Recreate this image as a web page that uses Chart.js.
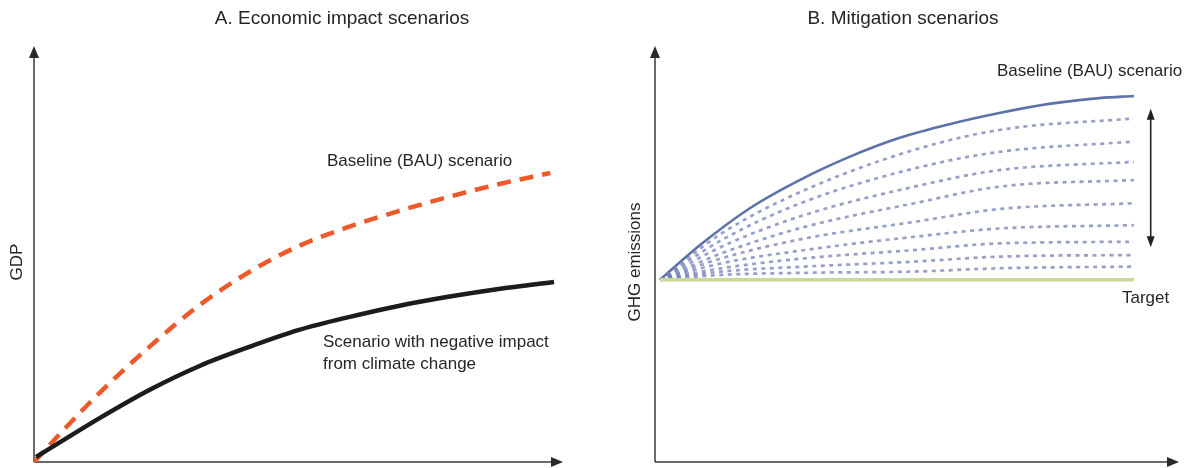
<!DOCTYPE html>
<html>
<head>
<meta charset="utf-8">
<script src="https://cdn.jsdelivr.net/npm/chart.js@4.4.1/dist/chart.umd.min.js"></script>
<style>
  html, body { margin: 0; padding: 0; background: #ffffff; }
  #wrap { position: relative; width: 1188px; height: 468px; overflow: hidden; }
  canvas { position: absolute; top: 0; }
</style>
</head>
<body>
<div id="wrap">
  <canvas id="chartA" width="600" height="468" style="left:0px;width:600px;height:468px"></canvas>
  <canvas id="chartB" width="588" height="468" style="left:600px;width:588px;height:468px"></canvas>
</div>
<script>
// ---------- Panel A: Economic impact scenarios ----------
const titleA = 'A. Economic impact scenarios';
const yLabelA = 'GDP';
const bauLabelA = 'Baseline (BAU) scenario';
const impactLabelA = ['Scenario with negative impact', 'from climate change'];

const bauGdpX = [0, 4.9, 12.4, 21.8, 31.3, 40.7, 50.1, 59.5, 68.9, 78.3, 87.8, 97.6];
const bauGdpY = [0, 6.8, 16.7, 27.8, 37.9, 45.9, 52.2, 56.8, 60.6, 64.0, 67.1, 69.8];

const impactGdpX = [0.4, 12.4, 21.8, 31.3, 40.7, 50.1, 59.5, 68.9, 78.3, 87.8, 98.3];
const impactGdpY = [1.2, 10.6, 17.4, 23.2, 27.8, 31.9, 35.0, 37.7, 39.9, 41.8, 43.5];

// ---------- Panel B: Mitigation scenarios ----------
const titleB = 'B. Mitigation scenarios';
const yLabelB = 'GHG emissions';
const bauLabelB = 'Baseline (BAU) scenario';
const targetLabelB = 'Target';

const bauEmisX = [0.95, 8.6, 18.1, 27.6, 37.1, 46.7, 56.2, 65.7, 75.2, 84.8, 91.4];
const bauEmisY = [44.0, 52.4, 61.3, 68.1, 73.7, 78.3, 81.6, 84.3, 86.5, 87.9, 88.4];

const mitX = [0.95, 12.7, 28.6, 49.5, 65.7, 91.4];
const mit1 = [44.0, 55.2, 65.7, 75.4, 80.2, 83.0];
const mit2 = [44.0, 53.6, 62.9, 70.9, 74.9, 77.4];
const mit3 = [44.0, 52.0, 59.7, 66.5, 70.5, 72.5];
const mit4 = [44.0, 50.4, 56.8, 62.5, 66.5, 68.1];
const mit5 = [44.0, 49.2, 54.0, 58.0, 61.1, 62.5];
const mit6 = [44.0, 48.0, 51.2, 54.4, 56.4, 57.2];
const mit7 = [44.0, 46.8, 49.2, 51.2, 52.8, 53.2];
const mit8 = [44.0, 46.0, 47.2, 48.4, 49.6, 50.0];
const mit9 = [44.0, 45.2, 45.7, 46.0, 46.8, 47.2];
const mitSeries = [mit1, mit2, mit3, mit4, mit5, mit6, mit7, mit8, mit9];

const targetX = [0.95, 91.4];
const targetY = [44.0, 44.0];

// range arrow (from upper to lower mitigation levels)
const rangeArrowX = 94.6;
const rangeArrowY = [85.3, 51.9];

// ---------- helpers ----------
const pts = (xs, ys) => xs.map((x, i) => ({ x: x, y: ys[i] }));
const FONT = '"Liberation Sans", Arial, Helvetica, sans-serif';
const INK = '#262626';

function arrowHead(ctx, x, y, dir, len, half) {
  ctx.beginPath();
  if (dir === 'up') { ctx.moveTo(x, y); ctx.lineTo(x - half, y + len); ctx.lineTo(x + half, y + len); }
  if (dir === 'down') { ctx.moveTo(x, y); ctx.lineTo(x - half, y - len); ctx.lineTo(x + half, y - len); }
  if (dir === 'right') { ctx.moveTo(x, y); ctx.lineTo(x - len, y - half); ctx.lineTo(x - len, y + half); }
  ctx.closePath();
  ctx.fill();
}

function axesPlugin(opts) {
  return {
    id: 'axesPlugin',
    beforeDatasetsDraw(chart) {
      const ctx = chart.ctx, a = chart.chartArea;
      ctx.save();
      ctx.strokeStyle = '#3a3a3a';
      ctx.fillStyle = '#2a2a2a';
      ctx.lineWidth = 1.5;
      ctx.beginPath();
      ctx.moveTo(a.left, a.bottom);
      ctx.lineTo(a.left, a.top + 6);
      ctx.moveTo(a.left, a.bottom);
      ctx.lineTo(a.right - 6, a.bottom);
      ctx.stroke();
      arrowHead(ctx, a.left, a.top - 2, 'up', 12, 5);
      arrowHead(ctx, a.right, a.bottom, 'right', 12, 5);
      ctx.restore();
    },
    afterDraw(chart) {
      const ctx = chart.ctx;
      ctx.save();
      ctx.fillStyle = INK;
      ctx.textBaseline = 'middle';
      // title
      ctx.font = opts.titleFont;
      ctx.textAlign = 'center';
      ctx.fillText(opts.title, opts.titlePos[0], opts.titlePos[1]);
      // y label
      ctx.save();
      ctx.translate(opts.yLabelPos[0], opts.yLabelPos[1]);
      ctx.rotate(-Math.PI / 2);
      ctx.font = opts.labelFont;
      ctx.fillText(opts.yLabel, 0, 0);
      ctx.restore();
      // annotations
      ctx.textAlign = 'left';
      ctx.font = opts.labelFont;
      opts.notes.forEach(n => ctx.fillText(n.text, n.x, n.y));
      if (opts.extra) opts.extra(chart);
      ctx.restore();
    }
  };
}

const baseOptions = (padding) => ({
  responsive: false,
  animation: false,
  layout: { padding: padding },
  plugins: { legend: { display: false }, tooltip: { enabled: false }, title: { display: false } },
  elements: { point: { radius: 0, hoverRadius: 0 } },
  scales: {
    x: { type: 'linear', display: false, min: 0, max: 100 },
    y: { type: 'linear', display: false, min: 0, max: 100 }
  }
});

// ---------- Chart A ----------
new Chart(document.getElementById('chartA'), {
  type: 'line',
  data: {
    datasets: [
      {
        label: impactLabelA.join(' '),
        data: pts(impactGdpX, impactGdpY),
        borderColor: '#1c1c1c',
        borderWidth: 4.5,
        cubicInterpolationMode: 'monotone',
        fill: false
      },
      {
        label: bauLabelA,
        data: pts(bauGdpX, bauGdpY),
        borderColor: '#ec5a2c',
        borderWidth: 4.5,
        borderDash: [14, 9],
        borderCapStyle: 'butt',
        cubicInterpolationMode: 'monotone',
        fill: false
      }
    ]
  },
  options: baseOptions({ left: 34, right: 37, top: 48, bottom: 6 }),
  plugins: [axesPlugin({
    title: titleA, titlePos: [342, 19], titleFont: '19px ' + FONT,
    yLabel: yLabelA, yLabelPos: [17, 262], labelFont: '17px ' + FONT,
    notes: [
      { text: bauLabelA, x: 327, y: 161 },
      { text: impactLabelA[0], x: 323, y: 342 },
      { text: impactLabelA[1], x: 323, y: 364 }
    ]
  })]
});

// ---------- Chart B ----------
const mitDatasets = mitSeries.map((ys, i) => ({
  label: 'Mitigation scenario ' + (i + 1),
  data: pts(mitX, ys),
  borderColor: 'rgba(116, 128, 184, 0.75)',
  borderWidth: 2.7,
  borderDash: [4, 4.5],
  borderCapStyle: 'butt',
  cubicInterpolationMode: 'monotone',
  fill: false
}));

new Chart(document.getElementById('chartB'), {
  type: 'line',
  data: {
    datasets: [
      {
        label: targetLabelB,
        data: pts(targetX, targetY),
        borderColor: '#c9d89b',
        borderWidth: 3.5,
        fill: false
      },
      ...mitDatasets,
      {
        label: bauLabelB,
        data: pts(bauEmisX, bauEmisY),
        borderColor: '#5d72a8',
        borderWidth: 2.6,
        cubicInterpolationMode: 'monotone',
        fill: false
      }
    ]
  },
  options: baseOptions({ left: 55, right: 9, top: 48, bottom: 6 }),
  plugins: [axesPlugin({
    title: titleB, titlePos: [303, 19], titleFont: '19px ' + FONT,
    yLabel: yLabelB, yLabelPos: [35, 262], labelFont: '17px ' + FONT,
    notes: [
      { text: bauLabelB, x: 397, y: 71 },
      { text: targetLabelB, x: 522, y: 298 }
    ],
    extra(chart) {
      const ctx = chart.ctx;
      const xs = chart.scales.x, ys = chart.scales.y;
      const x = xs.getPixelForValue(rangeArrowX);
      const yTop = ys.getPixelForValue(rangeArrowY[0]);
      const yBot = ys.getPixelForValue(rangeArrowY[1]);
      ctx.strokeStyle = '#222';
      ctx.fillStyle = '#222';
      ctx.lineWidth = 1.6;
      ctx.beginPath();
      ctx.moveTo(x, yTop + 8);
      ctx.lineTo(x, yBot - 8);
      ctx.stroke();
      arrowHead(ctx, x, yTop, 'up', 11, 4);
      arrowHead(ctx, x, yBot, 'down', 11, 4);
    }
  })]
});
</script>
</body>
</html>
